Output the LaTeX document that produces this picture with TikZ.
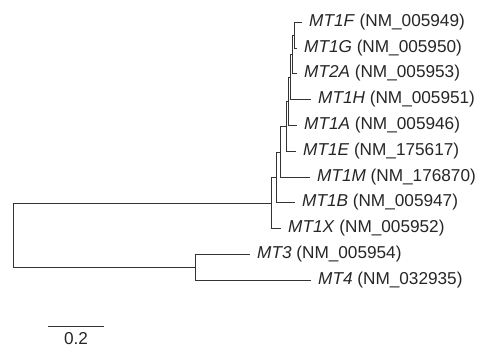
\documentclass[tikz,border=0pt]{standalone}
\usepackage{fontspec}
\setmainfont{Liberation Sans}
\usetikzlibrary{positioning}

\begin{document}
\begin{tikzpicture}[x=1pt, y=-1pt, baseline=(current bounding box.center),
		branch/.style={line width=.8pt, black!80},
		taxon/.style={inner sep=0pt, font=\fontsize{17.2}{20}\selectfont, text=black!85}]
			\useasboundingbox (0,0) rectangle (480,351);
			% tips
			\node[shape=coordinate] (f)  at (302, 22) {};
			\node[shape=coordinate] (g)  at (297, 48) {};
			\node[shape=coordinate] (ta) at (297, 73) {};
			\node[shape=coordinate] (h)  at (311, 99) {};
			\node[shape=coordinate] (a)  at (297,125) {};
			\node[shape=coordinate] (e)  at (296,151) {};
			\node[shape=coordinate] (m)  at (310,177) {};
			\node[shape=coordinate] (b)  at (295,202) {};
			\node[shape=coordinate] (x)  at (281,228) {};
			\node[shape=coordinate] (t3) at (250,254) {};
			\node[shape=coordinate] (t4) at (311,280) {};
			% inner nodes
			\node[shape=coordinate] (p1)   at (294, 35) {};
			\node[shape=coordinate] (p2)   at (292, 54) {};
			\node[shape=coordinate] (p3)   at (290, 77) {};
			\node[shape=coordinate] (p4)   at (288,101) {};
			\node[shape=coordinate] (p5)   at (286,126) {};
			\node[shape=coordinate] (p6)   at (280,152) {};
			\node[shape=coordinate] (p7)   at (276,177) {};
			\node[shape=coordinate] (p8)   at (271,203) {};
			\node[shape=coordinate] (q)    at (195,267) {};
			\node[shape=coordinate] (root) at ( 13,235) {};
			% branches
			\draw[branch] (p1) |- (f);
			\draw[branch] (p1) |- (g);
			\draw[branch] (p2) |- (p1);
			\draw[branch] (p2) |- (ta);
			\draw[branch] (p3) |- (p2);
			\draw[branch] (p3) |- (h);
			\draw[branch] (p4) |- (p3);
			\draw[branch] (p4) |- (a);
			\draw[branch] (p5) |- (p4);
			\draw[branch] (p5) |- (e);
			\draw[branch] (p6) |- (p5);
			\draw[branch] (p6) |- (m);
			\draw[branch] (p7) |- (p6);
			\draw[branch] (p7) |- (b);
			\draw[branch] (p8) |- (p7);
			\draw[branch] (p8) |- (x);
			\draw[branch] (q) |- (t3);
			\draw[branch] (q) |- (t4);
			\draw[branch] (root) |- (p8);
			\draw[branch] (root) |- (q);
			% labels
			\node[taxon, right=7pt of f]  (lf)  {\textit{MT1F} (NM\_005949)};
			\node[taxon, right=7pt of g]  (lg)  {\textit{MT1G} (NM\_005950)};
			\node[taxon, right=7pt of ta] (lta) {\textit{MT2A} (NM\_005953)};
			\node[taxon, right=7pt of h]  (lh)  {\textit{MT1H} (NM\_005951)};
			\node[taxon, right=7pt of a]  (la)  {\textit{MT1A} (NM\_005946)};
			\node[taxon, right=7pt of e]  (le)  {\textit{MT1E} (NM\_175617)};
			\node[taxon, right=7pt of m]  (lm)  {\textit{MT1M} (NM\_176870)};
			\node[taxon, right=7pt of b]  (lb)  {\textit{MT1B} (NM\_005947)};
			\node[taxon, right=7pt of x]  (lx)  {\textit{MT1X} (NM\_005952)};
			\node[taxon, right=7pt of t3] (lt3) {\textit{MT3} (NM\_005954)};
			\node[taxon, right=7pt of t4] (lt4) {\textit{MT4} (NM\_032935)};
			% scale bar
			\node[shape=coordinate] (sa) at ( 48,326) {};
			\node[shape=coordinate] (sb) at (104,326) {};
			\draw[branch] (sa) -- (sb);
			\node[taxon, below=6pt of sa, xshift=28pt] (sl) {0.2};
		\end{tikzpicture}
\end{document}
